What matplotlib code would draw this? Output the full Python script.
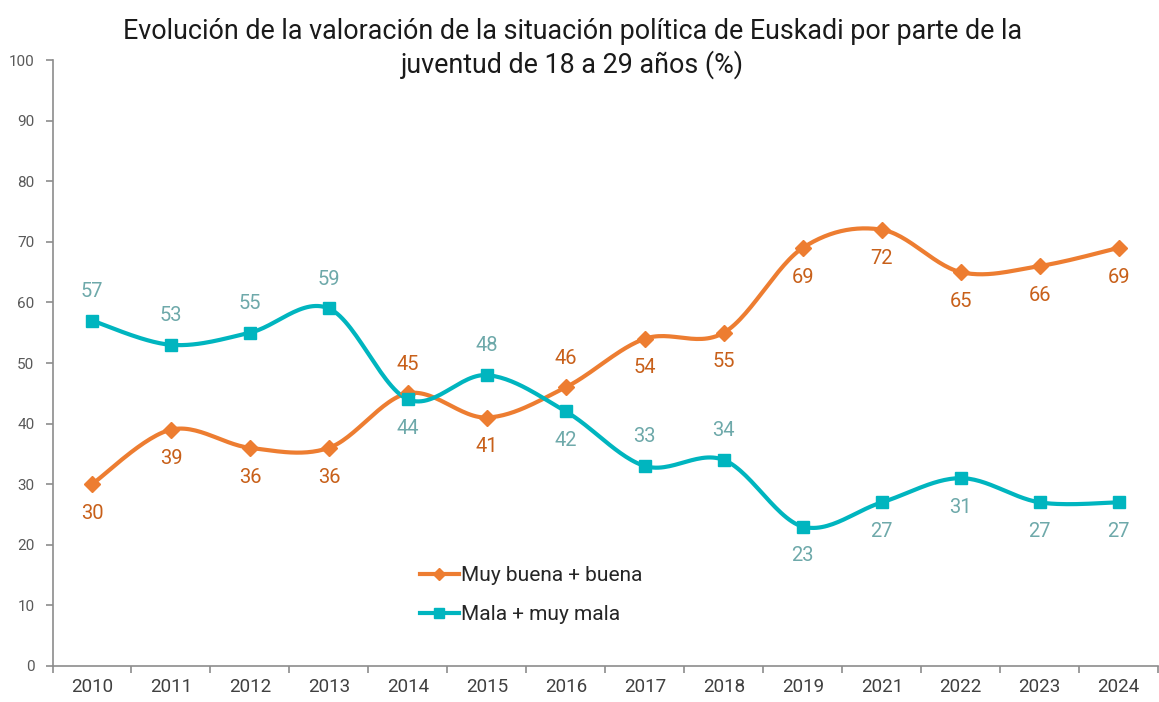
import matplotlib.pyplot as plt
import numpy as np

plt.rcParams['font.family'] = ['Roboto', 'DejaVu Sans']

anios = ['2010', '2011', '2012', '2013', '2014', '2015', '2016', '2017',
         '2018', '2019', '2021', '2022', '2023', '2024']
buena = [30, 39, 36, 36, 45, 41, 46, 54, 55, 69, 72, 65, 66, 69]
mala = [57, 53, 55, 59, 44, 48, 42, 33, 34, 23, 27, 31, 27, 27]
# posición de la etiqueta: 1 encima, -1 debajo
pos_buena = [-1, -1, -1, -1, 1, -1, 1, -1, -1, -1, -1, -1, -1, -1]
pos_mala = [1, 1, 1, 1, -1, 1, -1, 1, 1, -1, -1, -1, -1, -1]

naranja = '#ED7D31'
turquesa = '#00B5BF'
et_naranja = '#C8601A'
et_turquesa = '#6EA9AA'
gris = '#8C8C8C'


def suavizar(x, y, n=30):
    # curva suavizada tipo Excel (Catmull-Rom)
    x = np.asarray(x, float)
    y = np.asarray(y, float)
    px = np.concatenate([[x[0]], x, [x[-1]]])
    py = np.concatenate([[y[0]], y, [y[-1]]])
    xs, ys = [], []
    t = np.linspace(0, 1, n)
    for i in range(1, len(px) - 2):
        p0, p1, p2, p3 = [np.array([px[j], py[j]]) for j in (i - 1, i, i + 1, i + 2)]
        c1 = p1 + (p2 - p0) / 6
        c2 = p2 - (p3 - p1) / 6
        b = ((1 - t) ** 3)[:, None] * p1 + (3 * (1 - t) ** 2 * t)[:, None] * c1 \
            + (3 * (1 - t) * t ** 2)[:, None] * c2 + (t ** 3)[:, None] * p2
        xs.extend(b[:, 0])
        ys.extend(b[:, 1])
    return xs, ys


x = np.arange(len(anios))

fig = plt.figure(figsize=(11.59, 7.02), dpi=100)
ax = fig.add_axes([0.0453, 0.0513, 0.954, 0.8632])

xs, ys = suavizar(x, buena)
ax.plot(xs, ys, color=naranja, lw=3, zorder=2)
ax.plot(x, buena, ls='none', marker='D', ms=8.5, color=naranja, zorder=3)
xs, ys = suavizar(x, mala)
ax.plot(xs, ys, color=turquesa, lw=3, zorder=2)
ax.plot(x, mala, ls='none', marker='s', ms=9, color=turquesa, zorder=3)

# leyenda
ax.plot([], [], color=naranja, lw=3, marker='D', ms=6, label='Muy buena + buena')
ax.plot([], [], color=turquesa, lw=3, marker='s', ms=7, label='Mala + muy mala')
handles, labels = ax.get_legend_handles_labels()
ax.legend(handles[-2:], labels[-2:], loc='center left', bbox_to_anchor=(0.315, 0.117),
          frameon=False, fontsize=15, handlelength=1.9, handletextpad=0.1,
          labelspacing=0.95, labelcolor='#262626')

for i in range(len(anios)):
    ax.annotate(str(buena[i]), (x[i], buena[i]), xytext=(0, 21 * pos_buena[i]),
                textcoords='offset points', ha='center', va='center',
                fontsize=14.5, color=et_naranja)
    ax.annotate(str(mala[i]), (x[i], mala[i]), xytext=(0, 21 * pos_mala[i]),
                textcoords='offset points', ha='center', va='center',
                fontsize=14.5, color=et_turquesa)

ax.set_xlim(-0.5, len(anios) - 0.5)
ax.set_ylim(0, 100)
ax.set_yticks(np.arange(0, 101, 10))
ax.set_xticks(np.arange(-0.5, len(anios), 1))
ax.set_xticklabels([])
ax.set_xticks(x, minor=True)
ax.set_xticklabels(anios, minor=True)
ax.tick_params(axis='x', which='minor', length=0, pad=9, labelsize=13.5, labelcolor='#404040')
ax.tick_params(axis='x', which='major', length=5, color=gris, width=1.2)
ax.tick_params(axis='y', length=5, color=gris, width=1.2, labelsize=11, labelcolor='#595959', pad=8)
for s in ['top', 'right']:
    ax.spines[s].set_visible(False)
for s in ['left', 'bottom']:
    ax.spines[s].set_color(gris)
    ax.spines[s].set_linewidth(1.2)

fig.text(0.494, 0.931, 'Evolución de la valoración de la situación política de Euskadi por parte de la\n'
         'juventud de 18 a 29 años (%)', ha='center', va='center', fontsize=19.4,
         color='#1a1a1a', linespacing=1.2)

fig.savefig('out.png', dpi=100)
